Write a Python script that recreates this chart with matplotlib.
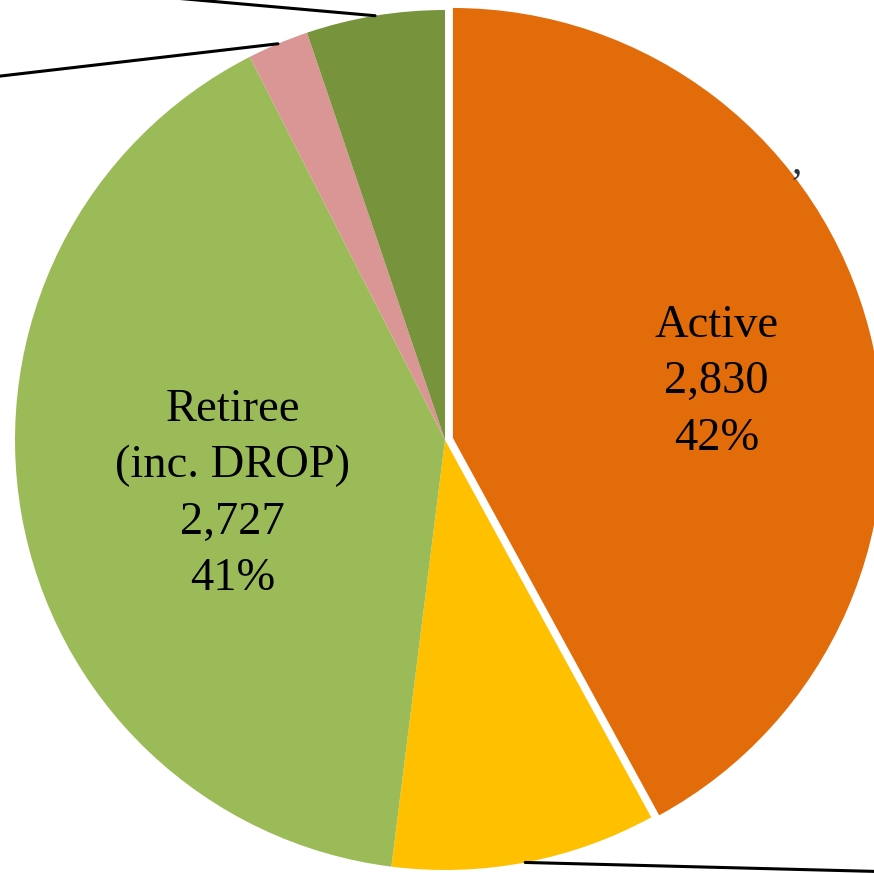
import numpy as np
import matplotlib.pyplot as plt

# member counts (small slices have their labels cropped off the picture)
groups = ["Active", "Inactive", "Retiree\n(inc. DROP)", "Disabled", "Beneficiary"]
counts = [2830, 670, 2727, 155, 350]
colors = ["#E36C0A", "#FFC000", "#9BBB59", "#D99694", "#77933C"]
show_label = [True, False, True, False, False]

W = H = 874
fig = plt.figure(figsize=(8.74, 8.74), dpi=100)
ax = fig.add_axes([0, 0, 1, 1])

cx, cy, r = 445, 434, 430
# pie explode is in data units here, so scale it by the radius
explode = [0.019 * r, 0, 0, 0, 0]
wedges, _ = ax.pie(counts, colors=colors, startangle=90, counterclock=False,
                   center=(cx, cy), radius=r, explode=explode,
                   wedgeprops=dict(linewidth=0), frame=True)
ax.set_xlim(0, W)
ax.set_ylim(0, H)
ax.set_aspect("equal")
ax.axis("off")

total = sum(counts)
font = ["Liberation Serif", "DejaVu Serif"]
label_dist = [0.65, 0, 0.52, 0, 0]
label_shift = [(-7, -13), None, (8, -16), None, None]
leader_end = [None, (430, -11), None, (-430, -50), (-430, 38)]
for i, w in enumerate(wedges):
    mid = np.deg2rad((w.theta1 + w.theta2) / 2)
    ox, oy = w.center
    if show_label[i]:
        pct = round(100 * counts[i] / total)
        txt = f"{groups[i]}\n{counts[i]:,}\n{pct}%"
        sx, sy = label_shift[i]
        ax.text(ox + label_dist[i] * r * np.cos(mid) + sx,
                oy + label_dist[i] * r * np.sin(mid) + sy,
                txt, ha="center", va="center", fontsize=33.5, family=font,
                linespacing=1.43, color="black")
    else:
        # leader line towards the (cropped) outside label
        x0, y0 = ox + r * np.cos(mid), oy + r * np.sin(mid)
        dx, dy = leader_end[i]
        ax.annotate("", xy=(x0, y0), xytext=(x0 + dx, y0 + dy), annotation_clip=False,
                    arrowprops=dict(arrowstyle="-", color="black", lw=2.2,
                                    shrinkA=0, shrinkB=0))

# stray comma from a cropped label
ax.text(797, 712, ",", fontsize=30, family=font, color="#2a3340", ha="center", va="center")

fig.savefig("out.png", dpi=100)
